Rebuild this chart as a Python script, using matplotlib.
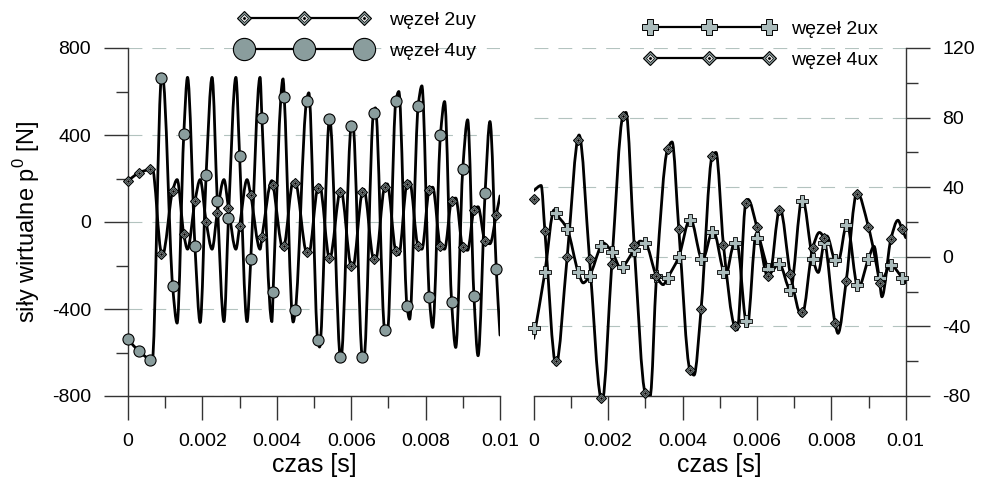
import numpy as np
import matplotlib
matplotlib.use('Agg')
import matplotlib.pyplot as plt
from matplotlib.path import Path
from matplotlib.patches import PathPatch
from matplotlib.lines import Line2D
from matplotlib.ticker import MultipleLocator, FuncFormatter
from matplotlib.legend_handler import HandlerTuple

plt.rcParams['font.family'] = ['Liberation Sans', 'DejaVu Sans']
plt.rcParams['axes.unicode_minus'] = False
plt.rcParams['mathtext.fontset'] = 'custom'
plt.rcParams['mathtext.rm'] = 'Liberation Sans'

# sample times of the markers [s]
t_mark = [0.0000, 0.0003, 0.0006, 0.0009, 0.0012, 0.0015, 0.0018, 0.0021, 0.0024,
          0.0027, 0.0030, 0.0033, 0.0036, 0.0039, 0.0042, 0.0045, 0.0048, 0.0051,
          0.0054, 0.0057, 0.0060, 0.0063, 0.0066, 0.0069, 0.0072, 0.0075, 0.0078,
          0.0081, 0.0084, 0.0087, 0.0090, 0.0093, 0.0096, 0.0099]

# left panel: node 4uy (circles) and 2uy (diamonds), marker values [N]
uy4_mark = [-540, -595, -635, 662, -295, 405, -112, 218, 98, 18, 305, -172, 479, -323,
            575, -406, 557, -543, 474, -621, 442, -621, 502, -497, 557, -387, 534, -346,
            401, -369, 245, -342, 135, -218]
uy2_mark = [190, 227, 245, -145, 144, -57, 96, 2, 43, 66, -20, 122, -71, 168, -112, 181,
            -140, 158, -165, 140, -204, 140, -172, 163, -135, 176, -112, 149, -112, 98,
            -117, 53, -89, 34]

# left panel: turning points of the curves
ext_t_uy = [0.0, 0.00065, 0.00093, 0.00132, 0.00160, 0.00194, 0.00226, 0.00258, 0.00290,
            0.00320, 0.00355, 0.00387, 0.00417, 0.00444, 0.00486, 0.00515, 0.00542,
            0.00572, 0.00604, 0.00634, 0.00665, 0.00697, 0.00728, 0.00757, 0.00790,
            0.00819, 0.00851, 0.00881, 0.00913, 0.00941, 0.00973, 0.0100]
uy4_ext = [-540, -640, 665, -465, 665, -462, 665, -458, 665, -458, 665, -458, 658, -460,
           594, -575, 480, -638, 458, -630, 525, -516, 600, -447, 626, -485, 554, -577,
           470, -615, 462, -520]
uy2_ext = [190, 250, -150, 195, -125, 195, -125, 195, -125, 195, -125, 190, -125, 185,
           -145, 170, -170, 150, -210, 150, -180, 175, -150, 185, -125, 160, -125, 110,
           -130, 70, -100, 120]

# right panel: node 2ux (crosses) and 4ux (diamonds), marker values [N]
ux2_mark = [-41, -9, 25, 16, -9, -11, 6, 3, -6, 4, 8, -11, -12, 0, 21, -1, 14, -9, 8,
            -37, 11, -7, -4, -19, 32, -1, 8, -2, 18, -16, -1, -12, -5, -12]
ux4_mark = [33, 15, -60, 0, 67, -1, -81, -4, 81, 7, -78, -11, 62, 16, -65, -30, 58, 7,
            -40, 31, 17, -11, 27, -10, -32, 5, 11, -38, -14, 36, 17, -15, 10, 16]

ux4_ext_t = [0.0, 0.0002, 0.0006, 0.00122, 0.00184, 0.00248, 0.00313, 0.00372, 0.00431,
             0.00490, 0.00547, 0.00576, 0.00632, 0.00662, 0.00721, 0.00768, 0.00818,
             0.00869, 0.00936, 0.00979, 0.0100]
ux4_ext = [38, 41, -62, 70, -83, 83, -80, 66, -68, 60, -42, 33, -13, 28, -34, 14, -44,
           37, -23, 21, 11]
ux2_ext_t = [0.0, 0.00055, 0.00133, 0.00186, 0.00236, 0.00286, 0.00348, 0.00421, 0.00453,
             0.00482, 0.00514, 0.00546, 0.00574, 0.00598, 0.00635, 0.00722, 0.00765,
             0.00788, 0.00818, 0.00842, 0.00872, 0.00915, 0.00935, 0.0100]
ux2_ext = [-47, 27, -15, 8, -7, 9, -16, 22, -2, 15, -12, 8, -40, 13, -9, 34, -9, 12, -3,
           19, -18, 6, -13, -15]

labels_left = ['węzeł 2uy', 'węzeł 4uy']
labels_right = ['węzeł 2ux', 'węzeł 4ux']

GREY = '#8a9d9d'
LIGHT = '#aabbbb'
GRID = '#b3c3bf'
TICK = '#333333'


def merge(ext_t, ext_y, mk_t, mk_y, tol=2.5e-5):
    t = list(ext_t)
    y = list(ext_y)
    for a, b in zip(mk_t, mk_y):
        if min(abs(a - e) for e in ext_t) > tol:
            t.append(a)
            y.append(b)
    o = np.argsort(t)
    return np.array(t, float)[o], np.array(y, float)[o]


def smooth_line(ax, t, y, **kw):
    # monotone cubic through the knots, drawn as bezier segments
    h = np.diff(t)
    d = np.diff(y) / h
    m = np.zeros_like(y)
    for i in range(1, len(y) - 1):
        if d[i - 1] * d[i] > 0:
            w1 = 2 * h[i] + h[i - 1]
            w2 = h[i] + 2 * h[i - 1]
            m[i] = (w1 + w2) / (w1 / d[i - 1] + w2 / d[i])
    m[0] = d[0]
    m[-1] = d[-1]
    verts = [(t[0], y[0])]
    codes = [Path.MOVETO]
    for i in range(len(t) - 1):
        verts += [(t[i] + h[i] / 3, y[i] + m[i] * h[i] / 3),
                  (t[i + 1] - h[i] / 3, y[i + 1] - m[i + 1] * h[i] / 3),
                  (t[i + 1], y[i + 1])]
        codes += [Path.CURVE4] * 3
    ax.add_patch(PathPatch(Path(verts, codes), fill=False, capstyle='round',
                           joinstyle='round', **kw))


def diamonds(ax, t, y, ms):
    # grey diamond with a white/black centre
    ax.plot(t, y, ls='none', marker='D', ms=ms, mfc=GREY, mec='black', mew=0.8,
            zorder=5, clip_on=False)
    ax.plot(t, y, ls='none', marker='D', ms=ms * 0.5, mfc='white', mec='black', mew=0.5,
            zorder=6, clip_on=False)
    ax.plot(t, y, ls='none', marker='D', ms=ms * 0.25, mfc='black', mec='black', mew=0.3,
            zorder=7, clip_on=False)


def style_axes(ax, side, major, minor, ylim):
    ax.set_xlim(0, 0.01)
    ax.set_ylim(*ylim)
    ax.patch.set_alpha(0)
    for s in ['top', 'left', 'right']:
        ax.spines[s].set_visible(False)
    ax.spines[side].set_visible(True)
    for s in ['bottom', side]:
        ax.spines[s].set_color(TICK)
        ax.spines[s].set_linewidth(1.0)
    ax.xaxis.set_major_locator(MultipleLocator(0.002))
    ax.xaxis.set_minor_locator(MultipleLocator(0.001))
    ax.yaxis.set_major_locator(MultipleLocator(major))
    ax.yaxis.set_minor_locator(MultipleLocator(minor))
    ax.xaxis.set_major_formatter(FuncFormatter(lambda v, p: '%g' % round(v, 4)))
    ax.yaxis.set_major_formatter(FuncFormatter(lambda v, p: '%d' % round(v)))
    if side == 'right':
        ax.yaxis.tick_right()
    ax.tick_params(which='major', direction='out', length=17.5, width=1.0, color=TICK,
                   labelsize=14, pad=9)
    ax.tick_params(which='minor', direction='out', length=8.5, width=1.0, color=TICK)
    ax.grid(axis='y', which='major', color=GRID, lw=0.8, ls=(0, (12.5, 9)), zorder=0)
    ax.set_xlabel('czas [s]', fontsize=18, labelpad=2)


fig = plt.figure(figsize=(9.81, 4.87), dpi=100)
axL = fig.add_axes([128 / 981, 1 - 396 / 487, 372 / 981, 348 / 487])
axR = fig.add_axes([533.7 / 981, 1 - 396 / 487, 372 / 981, 348 / 487])

style_axes(axL, 'left', 400, 200, (-800, 800))
style_axes(axR, 'right', 40, 20, (-80, 120))
axL.set_ylabel('siły wirtualne p$^{\\mathregular{0}}$ [N]', fontsize=17)
axL.yaxis.set_label_coords(-0.232, 0.5)

# left panel
t, y = merge(ext_t_uy, uy4_ext, t_mark, uy4_mark)
smooth_line(axL, t, y, color='black', lw=2.0, zorder=3)
t, y = merge(ext_t_uy, uy2_ext, t_mark, uy2_mark)
smooth_line(axL, t, y, color='black', lw=2.0, zorder=3)
axL.plot(t_mark, uy4_mark, ls='none', marker='o', ms=8, mfc=GREY, mec='black', mew=0.8,
         zorder=5, clip_on=False)
diamonds(axL, t_mark, uy2_mark, 5.4)

# right panel
t, y = merge(ux4_ext_t, ux4_ext, t_mark, ux4_mark)
smooth_line(axR, t, y, color='black', lw=2.0, zorder=3)
t, y = merge(ux2_ext_t, ux2_ext, t_mark, ux2_mark)
smooth_line(axR, t, y, color='black', lw=2.0, zorder=3)
axR.plot(t_mark, ux2_mark, ls='none', marker='P', ms=8, mfc=LIGHT, mec='black', mew=0.6,
         zorder=5, clip_on=False)
diamonds(axR, t_mark, ux4_mark, 5.4)

# legends
def diamond_handle(ms):
    return (Line2D([], [], color='black', lw=1.6, marker='D', ms=ms, mfc=GREY,
                   mec='black', mew=0.8),
            Line2D([], [], ls='none', marker='D', ms=ms * 0.5, mfc='white', mec='black',
                   mew=0.5),
            Line2D([], [], ls='none', marker='D', ms=ms * 0.22, mfc='black', mec='black',
                   mew=0.3))

h_circ = Line2D([], [], color='black', lw=1.6, marker='o', ms=16, mfc=GREY, mec='black',
                mew=0.8)
h_plus = Line2D([], [], color='black', lw=1.6, marker='P', ms=12, mfc=LIGHT, mec='black',
                mew=0.7)

fig.legend([diamond_handle(7.6), h_circ], labels_left, loc='upper left',
           bbox_to_anchor=(238 / 981, 1 - 11 / 487), frameon=False, fontsize=14,
           numpoints=3, handlelength=6.77, handletextpad=0.98, labelspacing=0.72,
           borderpad=0, borderaxespad=0,
           handler_map={tuple: HandlerTuple(ndivide=1)})
fig.legend([h_plus, diamond_handle(7.6)], labels_right, loc='upper left',
           bbox_to_anchor=(644 / 981, 1 - 20 / 487), frameon=False, fontsize=14,
           numpoints=3, handlelength=6.72, handletextpad=0.85, labelspacing=0.72,
           borderpad=0, borderaxespad=0,
           handler_map={tuple: HandlerTuple(ndivide=1)})

fig.savefig('out.png', dpi=100)
